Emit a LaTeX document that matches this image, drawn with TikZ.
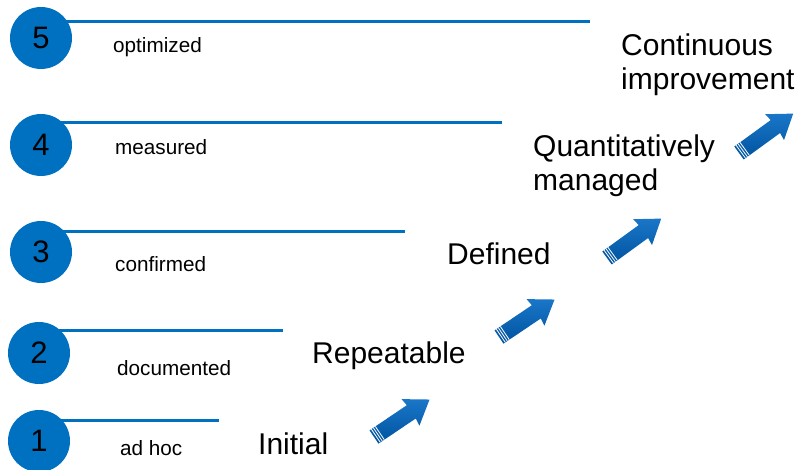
\documentclass[tikz,border=0pt]{standalone}
\usepackage{fontspec}
\setmainfont{Liberation Sans}
\usetikzlibrary{backgrounds}
\definecolor{cblue}{HTML}{0070C0}
\definecolor{alight}{HTML}{1A76C8}
\definecolor{adark}{HTML}{00539F}
\begin{document}
\begin{tikzpicture}[x=1pt,y=-1pt,
  num/.style={circle,fill=cblue,minimum size=62pt,inner sep=0pt,font=\fontsize{31}{36}\selectfont},
  lvl/.style={anchor=base west,inner sep=0pt,font=\fontsize{20.7}{24}\selectfont},
  stage/.style={anchor=base west,inner sep=0pt,font=\fontsize{30}{34}\selectfont,align=left},
  rail/.style={draw=cblue,line width=3pt},
  arrowpic/.pic={
    \shade[top color=alight,bottom color=adark]
      (0,-8) -- (45,-8) -- (44,-16) -- (67,0) -- (44,16) -- (45,8) -- (0,8) -- cycle;
    \foreach \s in {2.2,4.6,7} \draw[white,line width=0.8pt] (\s,-8) -- (\s,8);
  }]
\useasboundingbox (0,0) rectangle (798,470);
% circles
\node[num] (c5) at (41,38) {5};
\node[num] (c4) at (41,145) {4};
\node[num] (c3) at (41,252) {3};
\node[num] (c2) at (39,353) {2};
\node[num] (c1) at (39,441) {1};
% rail ends
\coordinate (e5) at (590,22);
\coordinate (e4) at (502,123);
\coordinate (e3) at (405,232);
\coordinate (e2) at (283,331);
\coordinate (e1) at (219,420);
\begin{pgfonlayer}{background}
  \foreach \i in {1,...,5} \draw[rail] (c\i |- e\i) -- (e\i);
\end{pgfonlayer}
% level labels
\node[lvl] (l5) at (113,53) {optimized};
\node[lvl] (l4) at (115,155) {measured};
\node[lvl] (l3) at (115,272) {confirmed};
\node[lvl] (l2) at (117,375) {documented};
\node[lvl] (l1) at (120,455) {ad hoc};
% stage names (base anchor = baseline of last line)
\node[stage] (s1) at (258,454) {Initial};
\node[stage] (s2) at (312,363) {Repeatable};
\node[stage] (s3) at (447,265) {Defined};
\node[stage] (s4) at (533,191) {Quantitatively\\managed};
\node[stage] (s5) at (621,90) {Continuous\\improvement};
% arrows
\pic[rotate=34] (a1) at (374,437) {arrowpic};
\pic[rotate=34] (a2) at (499,337) {arrowpic};
\pic[rotate=36] (a3) at (607,258) {arrowpic};
\pic[rotate=36] (a4) at (739,153) {arrowpic};
\end{tikzpicture}
\end{document}
